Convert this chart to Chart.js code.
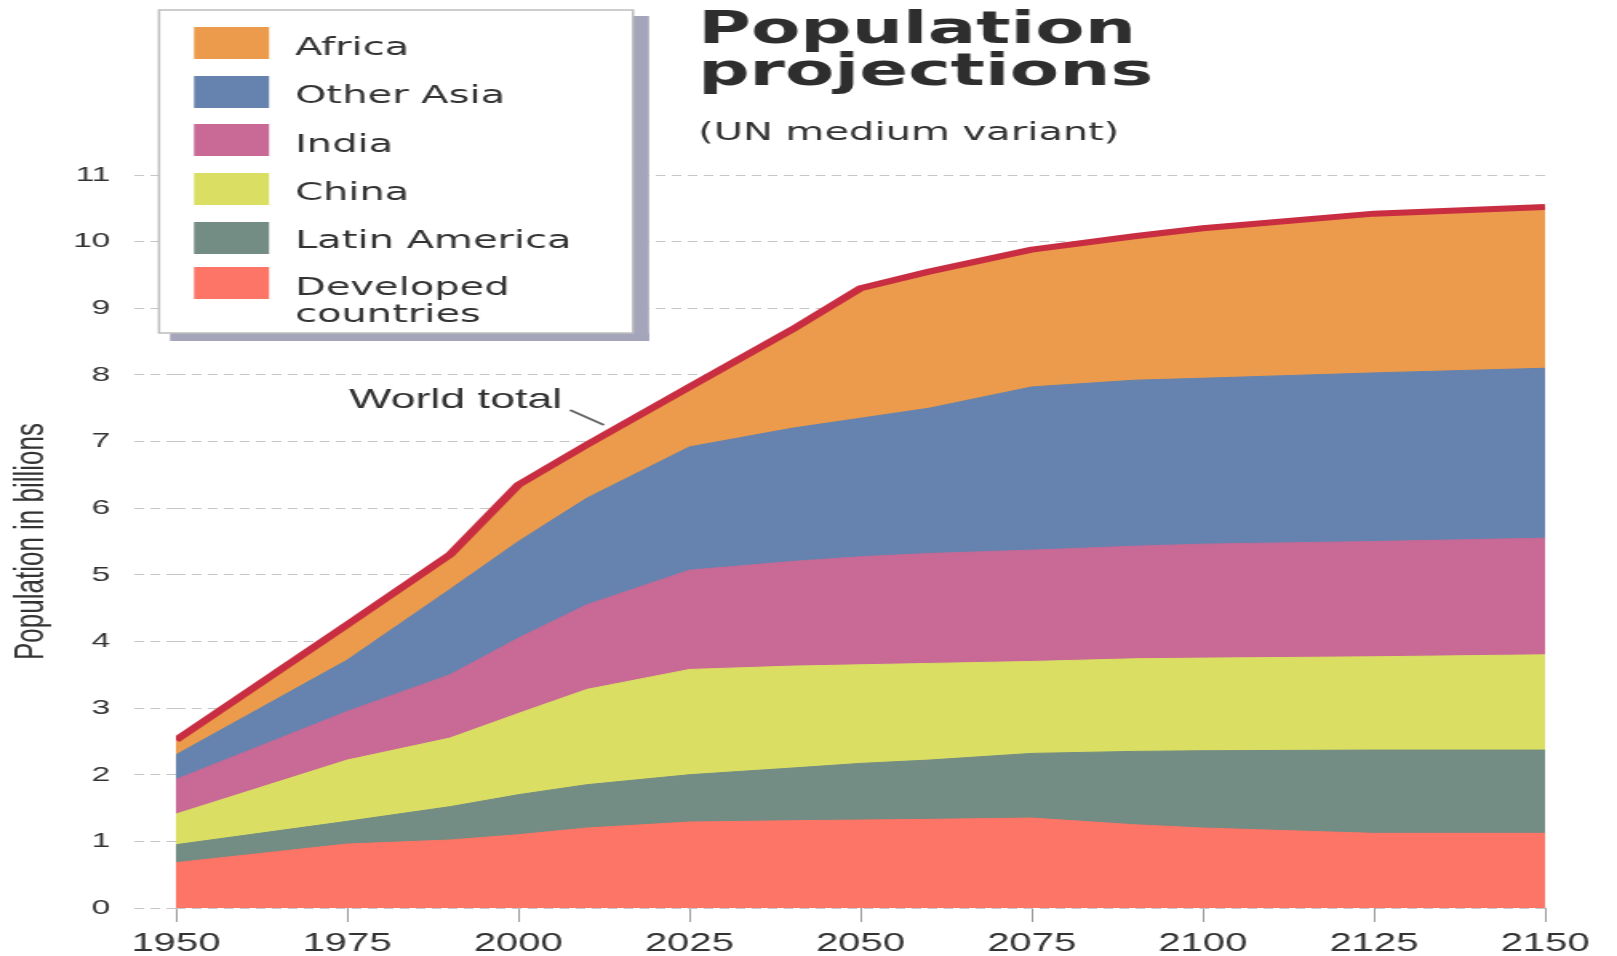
<!DOCTYPE html>
<html>
<head>
<meta charset="utf-8">
<script src="https://cdn.jsdelivr.net/npm/chart.js@4.4.1/dist/chart.umd.min.js"></script>
<style>
html,body{margin:0;padding:0;background:#fff;overflow:hidden}
#c{display:block}
</style>
</head>
<body>
<canvas id="c" width="1011" height="956" style="width:1617px;height:956px"></canvas>
<script>
// ---- data (billions) ----
const years        = [1950, 1975, 1990, 2000, 2010, 2025, 2040, 2050, 2060, 2075, 2090, 2100, 2125, 2150];
const developed    = [0.68, 0.96, 1.02, 1.10, 1.20, 1.29, 1.31, 1.32, 1.33, 1.35, 1.25, 1.20, 1.12, 1.12];
const latinAmerica = [0.27, 0.34, 0.50, 0.60, 0.65, 0.71, 0.79, 0.85, 0.89, 0.97, 1.10, 1.16, 1.25, 1.25];
const china        = [0.46, 0.92, 1.03, 1.22, 1.43, 1.58, 1.53, 1.48, 1.45, 1.38, 1.39, 1.39, 1.40, 1.43];
const india        = [0.52, 0.73, 0.95, 1.13, 1.27, 1.49, 1.57, 1.62, 1.65, 1.67, 1.69, 1.71, 1.73, 1.75];
const otherAsia    = [0.37, 0.77, 1.28, 1.45, 1.60, 1.85, 2.00, 2.08, 2.18, 2.45, 2.49, 2.49, 2.53, 2.55];
const africa       = [0.22, 0.53, 0.52, 0.85, 0.80, 0.90, 1.48, 1.95, 2.05, 2.06, 2.16, 2.25, 2.39, 2.42];

const xTickValues = [1950, 1975, 2000, 2025, 2050, 2075, 2100, 2125, 2150];
const xTickLabels = ['1950', '1975', '2000', '2025', '2050', '2075', '2100', '2125', '2150'];
const yTickValues = [0, 1, 2, 3, 4, 5, 6, 7, 8, 9, 10, 11];
const yTickLabels = ['0', '1', '2', '3', '4', '5', '6', '7', '8', '9', '10', '11'];

const legendLabels = ['Africa', 'Other Asia', 'India', 'China', 'Latin America', ['Developed', 'countries']];
const titleLines = ['Population', 'projections'];
const subtitleText = '(UN medium variant)';
const yAxisTitle = 'Population in billions';
const worldLabel = 'World total';

// ---- styles ----
const colors = {
  africa: '#EB9B4B',
  otherAsia: '#6683AF',
  india: '#C86996',
  china: '#DADF64',
  latin: '#738C84',
  developed: '#FD7566',
  world: '#C82D41'
};

const S = 1617 / 1011;          // horizontal stretch of the drawing
const X = v => v / S;           // full-picture x -> canvas x

const pts = arr => years.map((y, i) => ({x: y, y: arr[i]}));

function ds(label, arr, color, extra) {
  return Object.assign({
    label: label,
    data: pts(arr),
    backgroundColor: color,
    borderColor: color,
    borderWidth: 1,
    fill: 'origin',
    pointRadius: 0,
    tension: 0
  }, extra || {});
}

const datasets = [
  ds('Developed countries', developed, colors.developed),
  ds('Latin America', latinAmerica, colors.latin),
  ds('China', china, colors.china),
  ds('India', india, colors.india),
  ds('Other Asia', otherAsia, colors.otherAsia),
  ds('Africa', africa, colors.africa, {borderColor: colors.world, borderWidth: 6, borderJoinStyle: 'round'})
];

const legendColors = [colors.africa, colors.otherAsia, colors.india, colors.china, colors.latin, colors.developed];

const decorPlugin = {
  id: 'decor',
  afterDraw(chart) {
    const ctx = chart.ctx;
    ctx.save();
    // Title
    ctx.fillStyle = '#2e2e2e';
    ctx.textAlign = 'left';
    ctx.textBaseline = 'alphabetic';
    ctx.font = 'bold 45px "DejaVu Sans"';
    ctx.fillText(titleLines[0], X(698), 43);
    ctx.fillText(titleLines[1], X(698), 85);
    ctx.font = '25px "DejaVu Sans"';
    ctx.fillStyle = '#333';
    ctx.fillText(subtitleText, X(698), 140);

    // World total label + leader
    ctx.font = '28px "Liberation Sans"';
    ctx.fillStyle = '#333';
    ctx.fillText(worldLabel, X(349), 408);
    ctx.strokeStyle = '#666';
    ctx.lineWidth = 2;
    ctx.beginPath();
    ctx.moveTo(X(570), 410);
    ctx.lineTo(X(604), 425);
    ctx.stroke();

    // Legend box with shadow
    ctx.fillStyle = '#a4a4ba';
    ctx.fillRect(X(633), 16, X(649) - X(633), 325);
    ctx.fillRect(X(170), 333, X(649) - X(170), 8);
    ctx.fillStyle = '#ffffff';
    ctx.fillRect(X(159), 10, X(633) - X(159), 323);
    ctx.strokeStyle = '#bdbdbd';
    ctx.lineWidth = 1.5;
    ctx.strokeRect(X(159), 10, X(633) - X(159), 323);

    const swTops = [27, 76, 124, 173, 222, 267];
    const baselines = [55, 103, 152, 200, 248, 295];
    ctx.font = '25px "DejaVu Sans"';
    ctx.fillStyle = '#333';
    for (let i = 0; i < legendLabels.length; i++) {
      ctx.fillStyle = legendColors[i];
      ctx.fillRect(X(194), swTops[i], X(269) - X(194), 32);
      ctx.fillStyle = '#333';
      const lab = legendLabels[i];
      if (Array.isArray(lab)) {
        ctx.fillText(lab[0], X(295), baselines[i]);
        ctx.fillText(lab[1], X(295), baselines[i] + 27);
      } else {
        ctx.fillText(lab, X(295), baselines[i]);
      }
    }
    ctx.restore();
  }
};

new Chart(document.getElementById('c'), {
  type: 'line',
  data: {datasets: datasets},
  options: {
    responsive: false,
    animation: false,
    devicePixelRatio: 1,
    layout: {padding: {left: 0, right: 45, top: 175, bottom: 0}},
    plugins: {
      legend: {display: false},
      tooltip: {enabled: false},
      title: {display: false}
    },
    scales: {
      x: {
        type: 'linear',
        min: 1950,
        max: 2150,
        afterFit: s => { s.height = 48; },
        afterBuildTicks: s => { s.ticks = xTickValues.map(v => ({value: v})); },
        grid: {drawOnChartArea: false, drawTicks: true, tickLength: 14, tickColor: '#9a9a9a', tickWidth: 1},
        border: {display: false},
        ticks: {
          padding: 7,
          color: '#333',
          maxRotation: 0,
          autoSkip: false,
          font: {family: 'Liberation Sans', size: 25},
          callback: (v, i) => xTickLabels[i]
        }
      },
      y: {
        stacked: true,
        min: 0,
        max: 11,
        afterFit: s => { s.width = 110; },
        afterBuildTicks: s => { s.ticks = yTickValues.map(v => ({value: v})); },
        grid: {color: '#c6c6c6', lineWidth: 1, tickLength: 26, tickColor: '#c6c6c6', tickWidth: 1, tickBorderDash: [6, 4]},
        border: {display: false, dash: [6, 4]},
        ticks: {
          padding: 15,
          color: '#333',
          font: {family: 'Liberation Sans', size: 21},
          callback: (v, i) => yTickLabels[i]
        },
        title: {
          display: true,
          text: yAxisTitle,
          color: '#333',
          font: {family: 'Liberation Sans', size: 26},
          padding: {top: 4, bottom: 0}
        }
      }
    }
  },
  plugins: [decorPlugin]
});
</script>
</body>
</html>
